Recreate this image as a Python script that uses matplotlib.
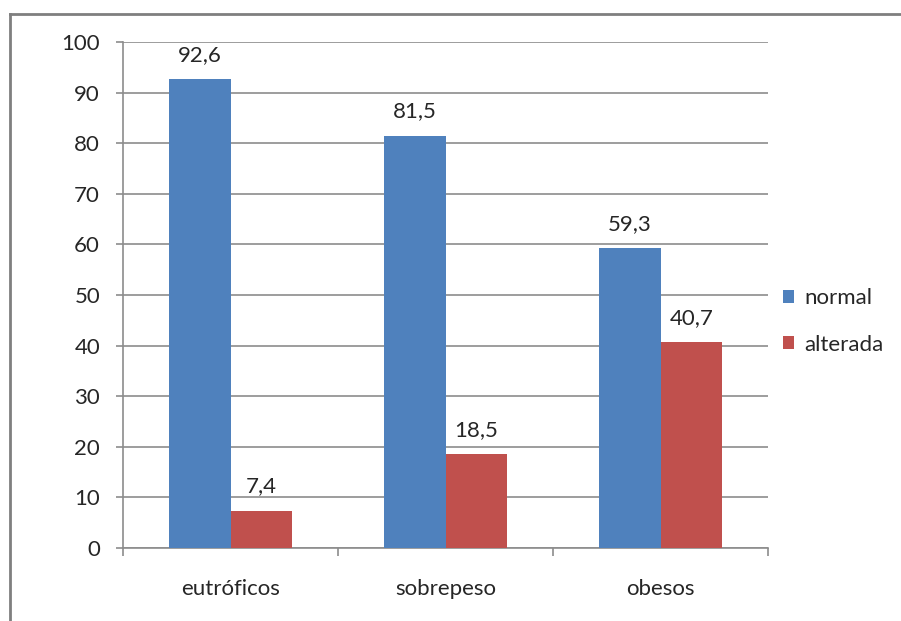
import matplotlib
matplotlib.use("Agg")
import matplotlib.pyplot as plt
import numpy as np
from matplotlib.lines import Line2D

# 分類と系列の値
categorias = ["eutróficos", "sobrepeso", "obesos"]
normal = [92.6, 81.5, 59.3]
alterada = [7.4, 18.5, 40.7]
series = ["normal", "alterada"]
colores = ["#4F81BD", "#C0504D"]
yticks = [0, 10, 20, 30, 40, 50, 60, 70, 80, 90, 100]

plt.rcParams["font.family"] = ["Lato", "DejaVu Sans"]
texto = "#262626"
gris = "#8c8c8c"
tam = 16

fig = plt.figure(figsize=(9.01, 6.21), dpi=100)
ax = fig.add_axes([123 / 901, 1 - 548 / 621, (768 - 123) / 901, (548 - 42) / 621])

x = np.arange(len(categorias))
ancho = 1 / 3.5  # separación del 150 %
for i, (vals, nombre, color) in enumerate(zip([normal, alterada], series, colores)):
    pos = x + (i - 0.5) * ancho
    barras = ax.bar(pos, vals, width=ancho, color=color, label=nombre, zorder=3)
    for b, v in zip(barras, vals):
        ax.annotate(f"{v:.1f}".replace(".", ","), (b.get_x() + b.get_width() / 2, v),
                    xytext=(0, 13), textcoords="offset points",
                    ha="center", va="baseline", fontsize=tam, color=texto)

ax.set_xlim(-0.5, len(categorias) - 0.5)
ax.set_ylim(0, 100)
ax.set_yticks(yticks)
ax.set_yticklabels([str(t) for t in yticks], fontsize=tam, color=texto)
ax.yaxis.grid(True, color=gris, linewidth=1.2, zorder=0)
ax.set_axisbelow(True)

# marcas del eje x entre categorías
ax.set_xticks(np.arange(-0.5, len(categorias), 1.0))
ax.set_xticklabels([])
ax.set_xticks(x, minor=True)
ax.set_xticklabels(categorias, minor=True, fontsize=tam, color=texto)
ax.tick_params(axis="x", which="minor", length=0, pad=22)
ax.tick_params(axis="x", which="major", length=6, color=gris, width=1.2)
ax.tick_params(axis="y", length=5, color=gris, width=1.2, pad=11.5)

for lado in ["top", "right"]:
    ax.spines[lado].set_visible(False)
for lado in ["left", "bottom"]:
    ax.spines[lado].set_color(gris)
    ax.spines[lado].set_linewidth(1.2)

# leyenda a la derecha
leg = ax.legend(loc="center left", bbox_to_anchor=((783 - 123) / 645, (548 - 321.5) / 506),
                frameon=False, fontsize=tam, handlelength=0.5, handleheight=0.5,
                handletextpad=0.45, labelspacing=1.18, borderpad=0, borderaxespad=0)
for t in leg.get_texts():
    t.set_color(texto)

# marco del gráfico
fig.add_artist(Line2D([10 / 901, 10 / 901], [0, 1 - 13.5 / 621], transform=fig.transFigure,
                      color="#7f7f7f", linewidth=2))
fig.add_artist(Line2D([10 / 901, 1], [1 - 13.5 / 621, 1 - 13.5 / 621], transform=fig.transFigure,
                      color="#7f7f7f", linewidth=2))

fig.savefig("out.png", dpi=100)
